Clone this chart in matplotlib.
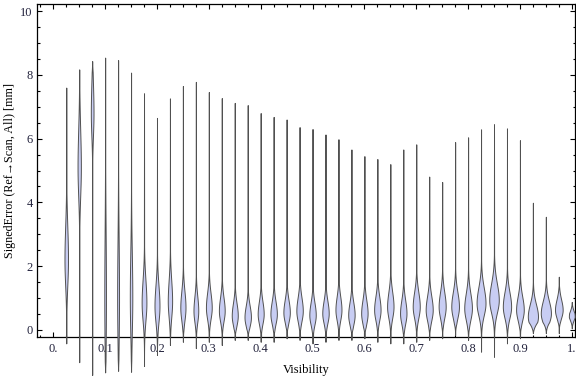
import numpy as np
import matplotlib
matplotlib.use("Agg")
import matplotlib.pyplot as plt
from matplotlib.ticker import MultipleLocator, FixedLocator

plt.rcParams["font.family"] = ["Liberation Serif", "DejaVu Serif"]

# visibility bins (violin centers)
visibility = [0.025, 0.05, 0.075, 0.1, 0.125, 0.15, 0.175, 0.2, 0.225, 0.25,
              0.275, 0.3, 0.325, 0.35, 0.375, 0.4, 0.425, 0.45, 0.475, 0.5,
              0.525, 0.55, 0.575, 0.6, 0.625, 0.65, 0.675, 0.7, 0.725, 0.75,
              0.775, 0.8, 0.825, 0.85, 0.875, 0.9, 0.925, 0.95, 0.975, 1.0]

# max signed error per bin [mm]
err_max = [7.60, 8.17, 8.43, 8.54, 8.46, 8.07, 7.42, 6.65, 7.26, 7.65,
           7.78, 7.46, 7.27, 7.12, 7.05, 6.80, 6.68, 6.60, 6.36, 6.30,
           6.13, 5.98, 5.66, 5.45, 5.36, 5.20, 5.66, 5.82, 4.81, 4.64,
           5.89, 6.04, 6.29, 6.45, 6.32, 5.95, 3.99, 3.55, 1.67, 0.88]

# min signed error per bin [mm]
err_min = [-0.42, -1.01, -1.41, -1.33, -1.28, -1.31, -1.13, -0.78, -0.47, -0.37,
           -0.57, -0.37, -0.47, -0.31, -0.31, -0.37, -0.37, -0.26, -0.31, -0.42,
           -0.37, -0.31, -0.31, -0.26, -0.37, -0.42, -0.42, -0.37, -0.31, -0.26,
           -0.16, -0.31, -0.68, -0.84, -0.42, -0.26, -0.10, -0.10, -0.10, 0.05]

# most likely error per bin [mm]
err_mode = [2.2, 5.1, 6.8, 1.0, 1.0, 1.0, 0.85, 0.75, 0.9, 0.7,
            0.6, 0.7, 0.6, 0.45, 0.4, 0.5, 0.5, 0.55, 0.6, 0.47,
            0.52, 0.63, 0.47, 0.52, 0.63, 0.73, 0.52, 0.73, 0.63, 0.73,
            0.73, 0.68, 0.84, 0.94, 0.73, 0.63, 0.42, 0.52, 0.63, 0.42]

# spread of the bulk around the mode [mm]
err_spread = [0.8, 0.9, 0.7, 1.6, 1.4, 1.1, 0.55, 0.5, 0.5, 0.4,
              0.35, 0.35, 0.32, 0.3, 0.28, 0.3, 0.3, 0.3, 0.32, 0.3,
              0.3, 0.32, 0.3, 0.32, 0.32, 0.35, 0.32, 0.35, 0.33, 0.35,
              0.35, 0.36, 0.38, 0.4, 0.35, 0.32, 0.3, 0.3, 0.25, 0.2]

# peak density, expressed as violin half width (visibility units)
peak_density = [0.0034, 0.0032, 0.0026, 0.0016, 0.0018, 0.0024, 0.0046, 0.0048, 0.0042, 0.0050,
                0.0046, 0.0056, 0.0056, 0.0058, 0.0062, 0.0058, 0.0062, 0.0062, 0.0062, 0.0062,
                0.0062, 0.0058, 0.0062, 0.0062, 0.0062, 0.0062, 0.0062, 0.0068, 0.0068, 0.0068,
                0.0074, 0.0074, 0.0086, 0.0092, 0.0080, 0.0074, 0.0098, 0.0098, 0.0074, 0.0056]

x_ticks = [0.0, 0.1, 0.2, 0.3, 0.4, 0.5, 0.6, 0.7, 0.8, 0.9, 1.0]
x_labels = ["0.", "0.1", "0.2", "0.3", "0.4", "0.5", "0.6", "0.7", "0.8", "0.9", "1."]
y_ticks = [0, 2, 4, 6, 8, 10]


def violin_profile(lo, hi, mode, spread, peak):
    ys = np.linspace(lo, hi, 600)
    s = np.where(ys < mode, spread, spread * 1.3)
    w = peak * np.exp(-0.5 * ((ys - mode) / s) ** 2)
    # pinch to a point at both extremes
    ends = np.clip(np.minimum(ys - lo, hi - ys) / 0.35, 0, 1)
    w = w * ends
    # thin tails running out to the extremes
    taper = np.minimum((ys - lo) / max(mode - lo, 1e-6), (hi - ys) / max(hi - mode, 1e-6))
    taper = np.clip(taper, 0, 1)
    w = np.maximum(w, 0.0003 * taper)
    return ys, w


fig = plt.figure(figsize=(5.76, 3.77), dpi=100)
ax = fig.add_axes([37 / 576, 40 / 377, 538 / 576, 333 / 377])

for x, lo, hi, m, s, p in zip(visibility, err_min, err_max, err_mode, err_spread, peak_density):
    ys, w = violin_profile(lo, hi, m, s, p)
    ax.fill_betweenx(ys, x - w, x + w, facecolor="#c8cdf3", edgecolor="#505050",
                     linewidth=0.7, clip_on=False, zorder=3)

ax.set_xlim(-0.0314, 1.0062)
ax.set_ylim(-0.22, 10.22)

ax.xaxis.set_major_locator(FixedLocator(x_ticks))
ax.set_xticklabels(x_labels)
ax.xaxis.set_minor_locator(MultipleLocator(0.025))
ax.set_yticks(y_ticks)
ax.yaxis.set_minor_locator(MultipleLocator(0.5))

ax.tick_params(which="both", direction="in", top=True, right=True,
               labelsize=9, labelcolor="#22223c", width=0.8)
ax.tick_params(which="major", length=3.4)
ax.tick_params(which="minor", length=1.8)
ax.tick_params(axis="x", pad=4.5)
ax.tick_params(axis="y", pad=3)

for sp in ax.spines.values():
    sp.set_linewidth(0.9)

ax.set_xlabel("Visibility", fontsize=9, labelpad=6)
ax.set_ylabel("SignedError (Ref\u2192Scan, All) [mm]", fontsize=8.75, labelpad=3)

fig.savefig("out.png", dpi=100)
